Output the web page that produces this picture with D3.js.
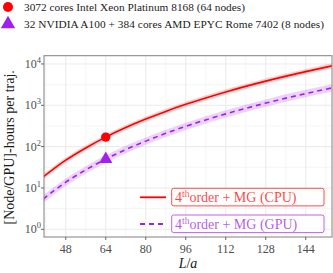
<!DOCTYPE html>
<html>
<head>
<meta charset="utf-8">
<script src="https://cdn.jsdelivr.net/npm/d3@7"></script>
<style>
  body { margin: 0; background: #fff; }
  svg { display: block; }
</style>
</head>
<body>
<script>
// values
const L = [39, 48, 56, 64, 72, 80, 88, 96, 112, 128, 144, 155];
const cpu = [18.5, 47, 93, 170, 289, 464, 713, 1054, 2108, 3846, 6530, 9100];
const cpuLo = [15.9, 40.5, 80, 147, 249, 400, 615, 909, 1817, 3316, 5629, 7845];
const cpuHi = [21.5, 54.5, 108, 197, 335, 538, 827, 1223, 2445, 4461, 7575, 10556];
const gpu = [5.4, 13.8, 27.4, 50, 85, 136, 210, 310, 620, 1131, 1921, 2676];
const gpuLo = [4.4, 11.2, 22.3, 40.7, 69, 111, 171, 252, 504, 920, 1562, 2176];
const gpuHi = [6.6, 17, 33.7, 61.5, 105, 167, 258, 381, 763, 1391, 2363, 3291];
const cpuPoint = [64, 170];
const gpuPoint = [64, 50];
const xTicks = [48, 64, 80, 96, 112, 128, 144];
const xMinor = [40, 56, 72, 88, 104, 120, 136, 152];
const yTicks = [0, 1, 2, 3, 4]; // exponents
const hwLabels = ["3072 cores Intel Xeon Platinum 8168 (64 nodes)",
                  "32 NVIDIA A100 + 384 cores AMD EPYC Rome 7402 (8 nodes)"];
const seriesLabels = ["CPU", "GPU"];

const red = "#ff0000", purple = "#a020f0";
const W = 333, H = 273;
const pL = 44, pR = 332, pT = 55.7, pB = 237;

const svg = d3.select("body").append("svg").attr("width", W).attr("height", H);

const x = d3.scaleLinear().domain([39.3, 154.5]).range([pL, pR]);
const y = d3.scaleLog().domain([Math.pow(10, -0.186), Math.pow(10, 4.2)]).range([pB, pT]);

svg.append("clipPath").attr("id", "clip")
  .append("rect").attr("x", pL).attr("y", pT).attr("width", pR - pL).attr("height", pB - pT);

// grid
const grid = svg.append("g");
xMinor.forEach(v => grid.append("line").attr("x1", x(v)).attr("x2", x(v)).attr("y1", pT).attr("y2", pB)
  .attr("stroke", "#f2f2f2").attr("stroke-width", 0.8));
[0.5, 1.5, 2.5, 3.5].forEach(e => grid.append("line").attr("x1", pL).attr("x2", pR)
  .attr("y1", y(Math.pow(10, e))).attr("y2", y(Math.pow(10, e))).attr("stroke", "#f2f2f2").attr("stroke-width", 0.8));
xTicks.forEach(v => grid.append("line").attr("x1", x(v)).attr("x2", x(v)).attr("y1", pT).attr("y2", pB)
  .attr("stroke", "#ebebeb").attr("stroke-width", 1.1));
yTicks.forEach(e => grid.append("line").attr("x1", pL).attr("x2", pR)
  .attr("y1", y(Math.pow(10, e))).attr("y2", y(Math.pow(10, e))).attr("stroke", "#ebebeb").attr("stroke-width", 1.1));

// bands and lines
const plot = svg.append("g").attr("clip-path", "url(#clip)");
const idx = d3.range(L.length);
const area = (lo, hi) => d3.area().curve(d3.curveMonotoneX)
  .x(i => x(L[i])).y0(i => y(lo[i])).y1(i => y(hi[i]));
const line = vals => d3.line().curve(d3.curveMonotoneX).x(i => x(L[i])).y(i => y(vals[i]));

plot.append("path").attr("d", area(cpuLo, cpuHi)(idx)).attr("fill", red).attr("fill-opacity", 0.18);
plot.append("path").attr("d", area(gpuLo, gpuHi)(idx)).attr("fill", purple).attr("fill-opacity", 0.2);
plot.append("path").attr("d", line(cpu)(idx)).attr("fill", "none").attr("stroke", red).attr("stroke-width", 1.6);
plot.append("path").attr("d", line(gpu)(idx)).attr("fill", "none").attr("stroke", purple).attr("stroke-width", 1.6)
  .attr("stroke-dasharray", "5,4");

// markers
svg.append("circle").attr("cx", x(cpuPoint[0])).attr("cy", y(cpuPoint[1])).attr("r", 4.7).attr("fill", red);
svg.append("path").attr("d", d3.symbol(d3.symbolTriangle, 75)())
  .attr("transform", `translate(${x(gpuPoint[0])},${y(gpuPoint[1])})`).attr("fill", purple);

// panel border
svg.append("rect").attr("x", pL).attr("y", pT).attr("width", pR - pL).attr("height", pB - pT)
  .attr("fill", "none").attr("stroke", "#808080").attr("stroke-width", 1);

// axes
const tickCol = "#666";
const xa = svg.append("g");
xTicks.forEach(v => {
  xa.append("line").attr("x1", x(v)).attr("x2", x(v)).attr("y1", pB).attr("y2", pB + 3).attr("stroke", tickCol);
  xa.append("text").attr("x", x(v)).attr("y", 252.5).attr("text-anchor", "middle")
    .attr("font-family", "Liberation Serif").attr("font-size", 12).attr("fill", "#4d4d4d").text(v);
});
const ya = svg.append("g");
yTicks.forEach(e => {
  const yy = y(Math.pow(10, e));
  ya.append("line").attr("x1", pL - 3).attr("x2", pL).attr("y1", yy).attr("y2", yy).attr("stroke", tickCol);
  const t = ya.append("text").attr("x", 41).attr("y", yy + 4).attr("text-anchor", "end")
    .attr("font-family", "Liberation Serif").attr("font-size", 12).attr("fill", "#4d4d4d");
  t.append("tspan").text("10");
  t.append("tspan").attr("dy", -5).attr("font-size", 8.5).text(e);
});

svg.append("text").attr("transform", `translate(14,${(pT + pB) / 2 + 1}) rotate(-90)`)
  .attr("text-anchor", "middle").attr("font-family", "Liberation Serif").attr("font-size", 14)
  .attr("fill", "#1a1a1a").text("[Node/GPU]-hours per traj.");
const xl = svg.append("text").attr("x", (pL + pR) / 2).attr("y", 267.5).attr("text-anchor", "middle")
  .attr("font-family", "Liberation Serif").attr("font-size", 14).attr("fill", "#1a1a1a");
xl.append("tspan").attr("font-style", "italic").text("L");
xl.append("tspan").text("/");
xl.append("tspan").attr("font-style", "italic").text("a");

// hardware legend on top
svg.append("circle").attr("cx", 8).attr("cy", 7).attr("r", 5).attr("fill", red);
svg.append("path").attr("d", d3.symbol(d3.symbolTriangle, 90)()).attr("transform", "translate(8,24)").attr("fill", purple);
const hwWidths = [221, 300];
hwLabels.forEach((s, i) => svg.append("text").attr("x", 24).attr("y", 10.5 + i * 17)
  .attr("font-family", "Liberation Serif").attr("font-size", 11.3).attr("fill", "#222")
  .attr("textLength", hwWidths[i]).attr("lengthAdjust", "spacing").text(s));

// series legend
const cols = [red, purple];
seriesLabels.forEach((s, i) => {
  const yy = 197.3 + i * 26.7;
  const g = svg.append("g");
  g.append("line").attr("x1", 140).attr("x2", 166).attr("y1", yy).attr("y2", yy).attr("stroke", cols[i])
    .attr("stroke-width", 1.8).attr("stroke-dasharray", i ? "5,4" : null);
  g.append("rect").attr("x", 171.7).attr("y", yy - 9).attr("width", 152.3).attr("height", 17.6).attr("rx", 2)
    .attr("fill", "#fff").attr("stroke", cols[i]).attr("stroke-opacity", 0.7);
  const t = g.append("text").attr("x", 175).attr("y", yy + 4.5).attr("font-family", "Liberation Serif")
    .attr("font-size", 14).attr("fill", cols[i]).attr("fill-opacity", 0.75);
  t.append("tspan").text("4");
  t.append("tspan").attr("dy", -5).attr("font-size", 9.5).text("th");
  t.append("tspan").attr("dy", 5).text(`order + MG (${s})`);
});
</script>
</body>
</html>
